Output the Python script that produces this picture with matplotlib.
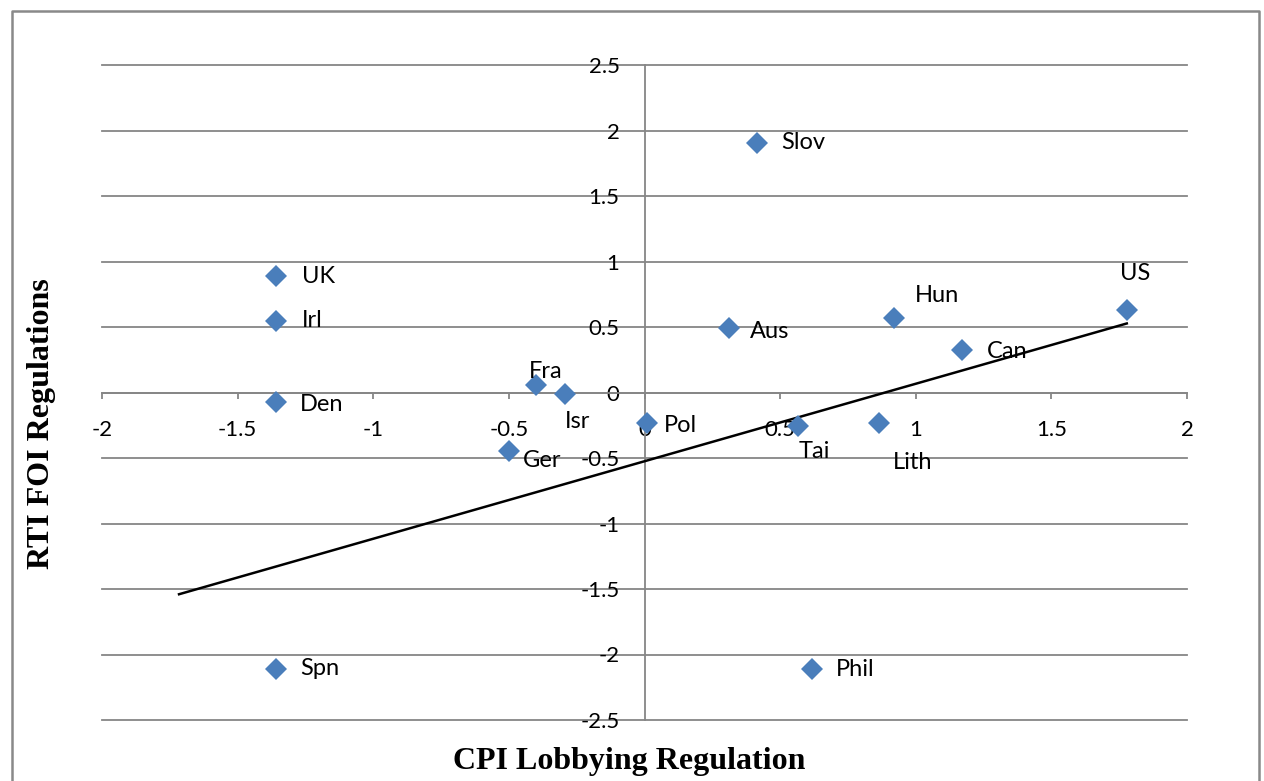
import matplotlib
matplotlib.use("Agg")
import matplotlib.pyplot as plt
from matplotlib.lines import Line2D
import numpy as np

# ---- data ----
countries = ["Slov", "UK", "Irl", "Den", "Spn", "Fra", "Isr", "Ger", "Pol",
             "Aus", "Tai", "Lith", "Hun", "Can", "US", "Phil"]
cpi = [0.415, -1.358, -1.358, -1.358, -1.358, -0.40, -0.293, -0.50, 0.009,
       0.311, 0.565, 0.866, 0.918, 1.170, 1.778, 0.617]
rti = [1.905, 0.889, 0.546, -0.073, -2.110, 0.057, -0.011, -0.447, -0.233,
       0.492, -0.256, -0.230, 0.570, 0.325, 0.630, -2.110]
trend_x = [-1.716, 1.778]
trend_y = [-1.540, 0.527]
x_ticks = [-2, -1.5, -1, -0.5, 0, 0.5, 1, 1.5, 2]
y_ticks = [-2.5, -2, -1.5, -1, -0.5, 0, 0.5, 1, 1.5, 2, 2.5]
x_title = "CPI Lobbying Regulation"
y_title = "RTI FOI Regulations"

# label offsets in pixels (layout only)
label_offsets = {
    "Slov": (24, 0, "left", "center"), "UK": (26, 0, "left", "center"),
    "Irl": (26, 0, "left", "center"), "Den": (24, -2, "left", "center"),
    "Spn": (24, 0, "left", "center"), "Fra": (10, 14, "center", "center"),
    "Isr": (13, -28, "center", "center"), "Ger": (14, -9, "left", "center"),
    "Pol": (17, -2, "left", "center"), "Aus": (21, -3, "left", "center"),
    "Tai": (17, -25, "center", "center"), "Lith": (33, -40, "center", "center"),
    "Hun": (43, 22, "center", "center"), "Can": (25, -2, "left", "center"),
    "US": (8, 36, "center", "center"), "Phil": (24, -1, "left", "center"),
}

W, H = 1264, 781
fig = plt.figure(figsize=(W / 100, H / 100), dpi=100)
ax = fig.add_axes([102 / W, 1 - 720 / H, (1187 - 102) / W, (720 - 65) / H])

grey = "#868686"
ax.set_xlim(-2, 2)
ax.set_ylim(-2.5, 2.5)
for s in ["top", "right"]:
    ax.spines[s].set_visible(False)
ax.spines["left"].set_position("zero")
ax.spines["bottom"].set_position("zero")
for s in ["left", "bottom"]:
    ax.spines[s].set_color(grey)
    ax.spines[s].set_linewidth(1.3)

ax.set_xticks(x_ticks)
ax.set_xticklabels([f"{v:g}" for v in x_ticks])
ax.set_yticks(y_ticks)
ax.set_yticklabels([f"{v:g}" for v in y_ticks])
ax.tick_params(axis="x", direction="out", length=4, width=1.3, color=grey, pad=15.5)
ax.tick_params(axis="y", direction="out", length=0, width=1.3, color=grey, pad=18)
for lab in ax.get_xticklabels() + ax.get_yticklabels():
    lab.set_fontfamily("Lato")
    lab.set_fontsize(16)
    lab.set_color("black")

ax.yaxis.grid(True, color=grey, linewidth=1.3)
ax.set_axisbelow(True)
for gl in ax.get_ygridlines():
    gl.set_clip_on(False)

ax.plot(trend_x, trend_y, color="black", linewidth=1.8, zorder=3)
ax.plot(cpi, rti, linestyle="none", marker="D", markersize=11.5,
        markerfacecolor="#4A7EBB", markeredgewidth=0, zorder=4)

for name, xv, yv in zip(countries, cpi, rti):
    dx, dy, ha, va = label_offsets[name]
    ax.annotate(name, (xv, yv), xytext=(dx, dy), textcoords="offset pixels",
                ha=ha, va=va, fontsize=17, fontfamily="Lato", zorder=5)

fig.text(629 / W, 1 - 761 / H, x_title, ha="center", va="center",
         fontsize=23, fontweight="bold", fontfamily="Liberation Serif")
fig.text(42 / W, 1 - 424 / H, y_title, ha="center", va="center", rotation=90,
         fontsize=23, fontweight="bold", fontfamily="Liberation Serif")

# chart area border (left, top, right)
bx0, bx1, by0 = 11.5 / W, 1259 / W, 1 - 10.5 / H
fig.add_artist(Line2D([bx0, bx0, bx1, bx1], [-0.1, by0, by0, -0.1],
                      transform=fig.transFigure, color="#898989", linewidth=1.8))

fig.savefig("out.png", dpi=100)
